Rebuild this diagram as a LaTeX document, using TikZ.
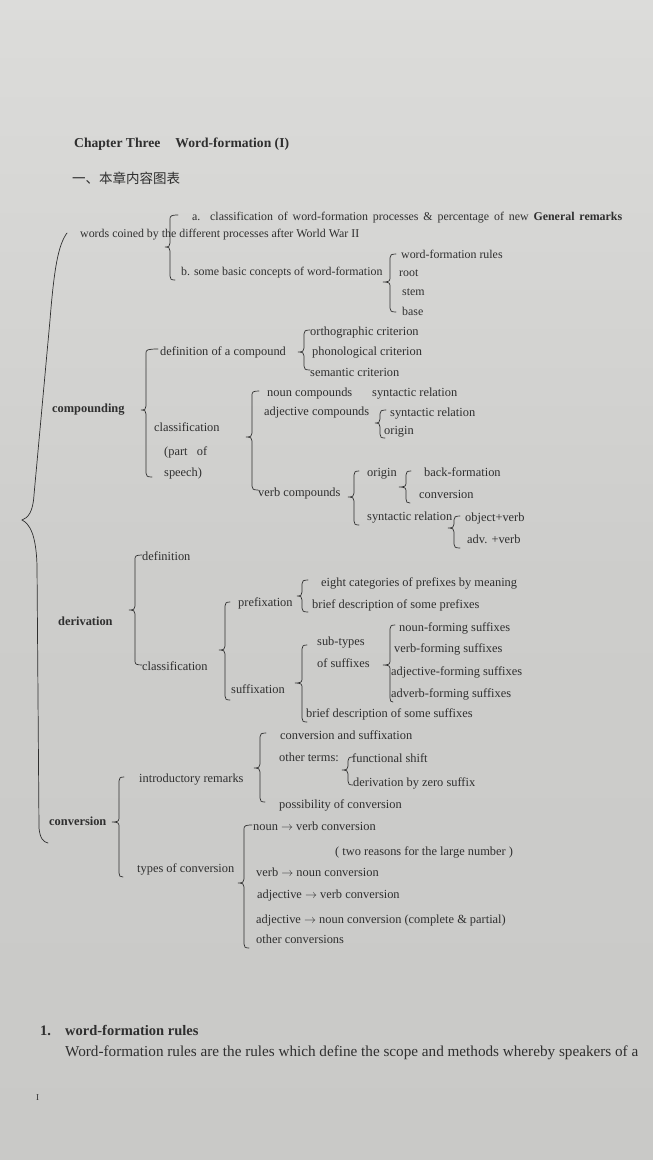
\documentclass[tikz,border=0pt]{standalone}
\usepackage{fontspec}
\setmainfont{Liberation Serif}
\newfontfamily\cjk{Noto Sans CJK SC}
\definecolor{ink}{HTML}{2F2F2F}
\definecolor{paperA}{HTML}{DCDCDA}
\definecolor{paperB}{HTML}{CDCDCB}
\definecolor{paperC}{HTML}{C9C9C7}
% left curly brace: #1 vertical x, #2 top y, #3 tip y, #4 bottom y, #5 tip x, #6 top end x, #7 bottom end x
\newcommand\cbr[7]{%
 \draw[brace] ({#6},{#2}) .. controls ({#1+1},{#2}) and ({#1},{#2+1}) .. ({#1},{#2+4})
   -- ({#1},{#3-4}) .. controls ({#1},{#3-1}) and ({#1-1},{#3}) .. ({#5},{#3})
   .. controls ({#1-1},{#3}) and ({#1},{#3+1}) .. ({#1},{#3+4})
   -- ({#1},{#4-4}) .. controls ({#1},{#4-1}) and ({#1+1},{#4}) .. ({#7},{#4});}
\begin{document}
\begin{tikzpicture}[x=1pt,y=-1pt,
  lbl/.style={anchor=west,inner sep=0pt,text=ink,font=\fontsize{12.4}{14}\selectfont,text height=8.5pt,text depth=2.5pt},
  lbls/.style={lbl,font=\fontsize{11.9}{14}\selectfont},
  lblb/.style={lbl,font=\fontsize{12.4}{14}\selectfont\bfseries},
  brace/.style={draw=ink,line width=0.7pt,line cap=round}]
\useasboundingbox (0,0) rectangle (653,1160);
\fill[top color=paperA,bottom color=paperC,middle color=paperB] (0,0) rectangle (653,1160);

% headings
\node[lblb,font=\fontsize{13.6}{15}\selectfont\bfseries] (title) at (74,144) {Chapter Three\hspace{1.1em}Word-formation (I)};
\node[lbl,font=\fontsize{13.5}{15}\selectfont\cjk] (cjkhead) at (72,180) {一、本章内容图表};

% general remarks
\node[lbls] (ga) at (192,217) {\makebox[430pt][s]{a. classification of word-formation processes \& percentage of new \textbf{General remarks}}};
\node[lbls] (gw) at (80,234) {words coined by the different processes after World War II};
\node[lbls] (gb) at (181,272) {b. some basic concepts of word-formation};
\node[lbls] (r1) at (401,255) {word-formation rules};
\node[lbls] (r2) at (399,273) {root};
\node[lbls] (r3) at (402,292) {stem};
\node[lbls] (r4) at (402,312) {base};
\cbr{170}{215}{247}{280}{165}{178}{175}
\cbr{390}{254}{282}{312}{383}{396}{396}

% main brace
\draw[brace] (67,233) .. controls (58,245) and (54,270) .. (50,320) -- (34,495)
  .. controls (33,512) and (28,518) .. (22,520)
  .. controls (30,524) and (36,535) .. (37,565) -- (39,828)
  .. controls (40,838) and (43,842) .. (48,843);

% compounding
\node[lblb] (comp) at (52,409) {compounding};
\node[lbl] (cdef) at (160,352) {definition of a compound};
\node[lbl] (c2) at (310,332) {orthographic criterion};
\node[lbl] (c3) at (312,352) {phonological criterion};
\node[lbl] (c4) at (310,373) {semantic criterion};
\node[lbl] (c5) at (267,393) {noun compounds};
\node[lbl] (c6) at (372,393) {syntactic relation};
\node[lbl] (c7) at (264,412) {adjective compounds};
\node[lbl] (c8) at (390,413) {syntactic relation};
\node[lbl] (c9) at (384,431) {origin};
\node[lbl] (ccls) at (154,428) {classification};
\node[lbl] (c11) at (164,452) {\makebox[43pt][s]{(part of}};
\node[lbl] (c12) at (164,473) {speech)};
\node[lbl] (cverb) at (258,493) {verb compounds};
\node[lbl] (c14) at (367,473) {origin};
\node[lbl] (c15) at (424,473) {back-formation};
\node[lbl] (c16) at (419,495) {conversion};
\node[lbl] (c17) at (367,517) {syntactic relation};
\node[lbl] (c18) at (465,518) {object+verb};
\node[lbl] (c19) at (467,540) {adv. +verb};
\cbr{146}{349}{410}{477}{141}{158}{152}
\cbr{304}{330}{352}{370}{298}{310}{310}
\cbr{252}{391}{437}{490}{246}{259}{258}
\cbr{380}{410}{423}{438}{375}{386}{385}
\cbr{354}{471}{497}{525}{348}{359}{359}
\cbr{406}{471}{487}{503}{399}{411}{410}
\cbr{454}{516}{528}{548}{448}{460}{460}

% derivation
\node[lblb] (deriv) at (58,622) {derivation};
\node[lbl] (d1) at (142,557) {definition};
\node[lbl] (dcls) at (142,667) {classification};
\node[lbl] (dpre) at (238,603) {prefixation};
\node[lbl] (d4) at (321,583) {eight categories of prefixes by meaning};
\node[lbl] (d5) at (312,605) {brief description of some prefixes};
\node[lbl] (dsuf) at (231,690) {suffixation};
\node[lbl] (d7) at (317,642) {sub-types};
\node[lbl] (d8) at (317,664) {of suffixes};
\node[lbl] (d9) at (399,628) {noun-forming suffixes};
\node[lbl] (d10) at (394,649) {verb-forming suffixes};
\node[lbl] (d11) at (391,672) {adjective-forming suffixes};
\node[lbl] (d12) at (391,694) {adverb-forming suffixes};
\node[lbl] (d13) at (306,714) {brief description of some suffixes};
\cbr{135}{555}{610}{665}{129}{142}{142}
\cbr{225}{602}{650}{700}{219}{230}{230}
\cbr{302}{580}{596}{612}{297}{308}{308}
\cbr{302}{645}{683}{722}{295}{307}{307}
\cbr{390}{625}{665}{702}{383}{395}{393}

% conversion
\node[lblb] (conv) at (49,822) {conversion};
\node[lbl] (vint) at (139,779) {introductory remarks};
\node[lbl] (v2) at (280,736) {conversion and suffixation};
\node[lbl] (v3) at (279,758) {other terms:};
\node[lbl] (v4) at (352,759) {functional shift};
\node[lbl] (v5) at (353,783) {derivation by zero suffix};
\node[lbl] (v6) at (279,805) {possibility of conversion};
\node[lbl] (vtyp) at (137,869) {types of conversion};
\node[lbl] (v8) at (253,827) {noun $\rightarrow$ verb conversion};
\node[lbl] (v9) at (335,852) {( two reasons for the large number )};
\node[lbl] (v10) at (256,873) {verb $\rightarrow$ noun conversion};
\node[lbl] (v11) at (257,895) {adjective $\rightarrow$ verb conversion};
\node[lbl] (v12) at (256,920) {adjective $\rightarrow$ noun conversion (complete \& partial)};
\node[lbl] (v13) at (256,940) {other conversions};
\cbr{119}{777}{822}{877}{112}{124}{123}
\cbr{260}{733}{768}{802}{254}{266}{265}
\cbr{348}{757}{770}{785}{342}{353}{353}
\cbr{244}{825}{883}{948}{238}{252}{249}

% text below
\node[lblb,font=\fontsize{14.5}{16}\selectfont\bfseries] (s1n) at (40,1032) {1.};
\node[lblb,font=\fontsize{14.5}{16}\selectfont\bfseries] (s1) at (65,1032) {word-formation rules};
\node[lbl,font=\fontsize{15.2}{17}\selectfont] (s1t) at (65,1053) {\makebox[573pt][s]{Word-formation rules are the rules which define the scope and methods whereby speakers of a}};
\node[lbl,font=\fontsize{9}{10}\selectfont] (pg) at (36,1097) {I};
\end{tikzpicture}
\end{document}
